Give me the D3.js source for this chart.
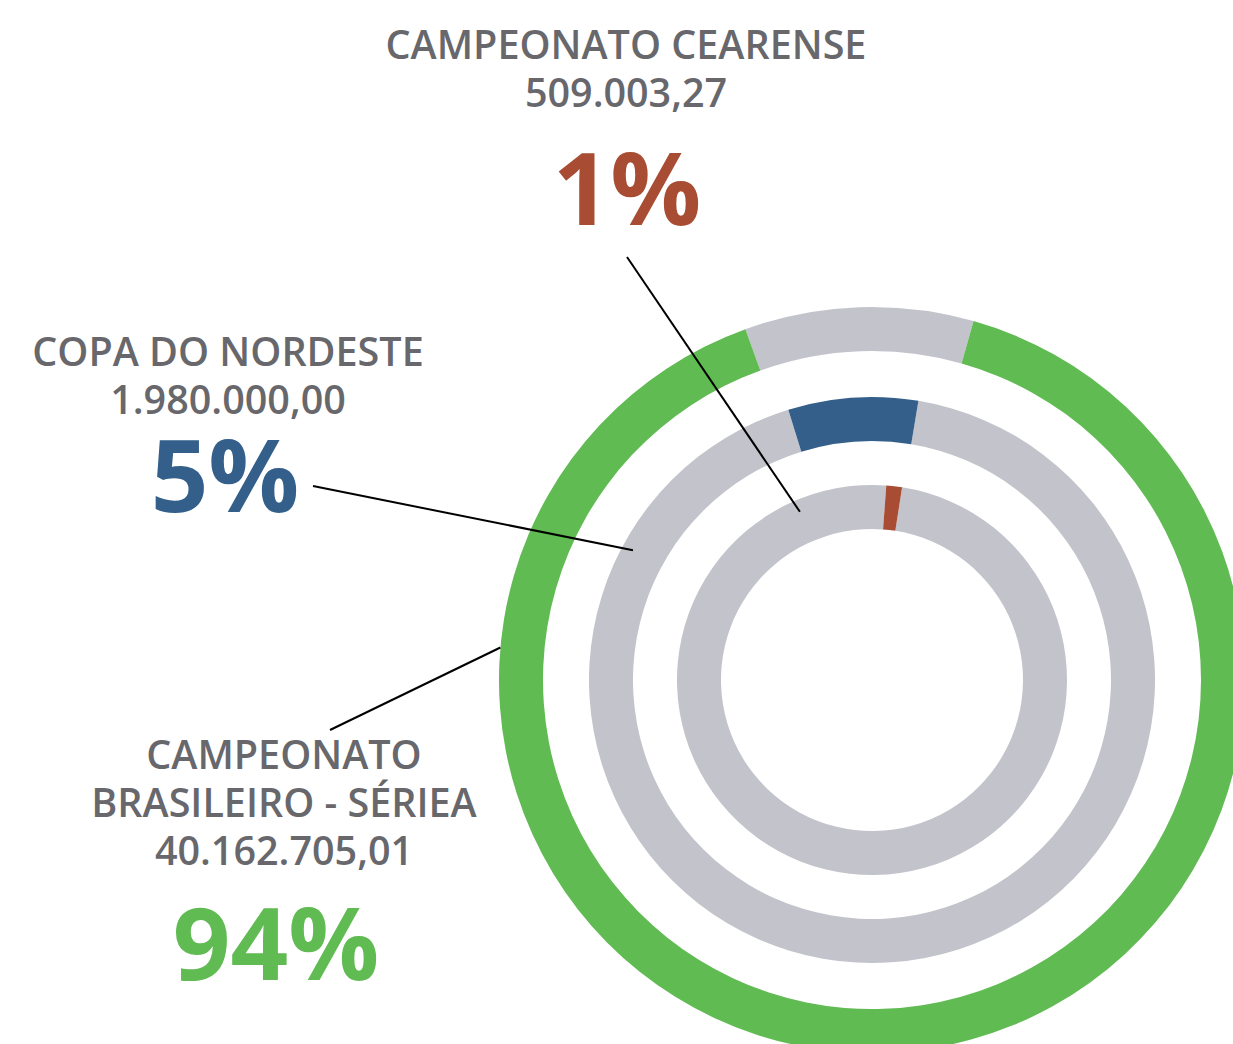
<!DOCTYPE html>
<html>
<head>
<meta charset="utf-8">
<script src="https://cdnjs.cloudflare.com/ajax/libs/d3/7.8.5/d3.min.js"></script>
<style>
  body { margin: 0; background: #fff; }
  .lbl { font-family: "Open Sans", sans-serif; font-weight: 600; fill: #67676c; text-anchor: middle; }
  .pct { font-family: "Open Sans", sans-serif; font-weight: 700; text-anchor: middle; }
</style>
</head>
<body>
<svg id="chart" width="1233" height="1044"></svg>
<script>
// competitions, outer ring first
var names = [["CAMPEONATO", "BRASILEIRO - SÉRIEA"], ["COPA DO NORDESTE"], ["CAMPEONATO CEARENSE"]];
var amounts = ["40.162.705,01", "1.980.000,00", "509.003,27"];
var pctLabels = ["94%", "5%", "1%"];
var colors = ["#60bb52", "#335f8a", "#a84d33"];
// arc of each colored segment (share of the ring, start in degrees from top)
var segShare = [0.901, 0.074, 0.013];
var segStart = [15.8, -17.2, 4.2];

var svg = d3.select("#chart");
var cx = 872, cy = 680;

// ring radii: outer ring index 0
var rOuter = d3.scaleOrdinal().domain([0, 1, 2]).range([373, 283, 195]);
var ringW = 44;

var arc = d3.arc();
var deg = d3.scaleLinear().domain([0, 360]).range([0, 2 * Math.PI]);

var g = svg.append("g").attr("transform", "translate(" + cx + "," + cy + ")");

segShare.forEach(function(s, i) {
    var a0 = deg(segStart[i]);
    var a1 = a0 + deg(s * 360);
    // gray background (rest of ring)
    g.append("path")
        .attr("d", arc({innerRadius: rOuter(i) - ringW, outerRadius: rOuter(i), startAngle: a1, endAngle: a0 + 2 * Math.PI}))
        .attr("fill", "#c3c3cc");
    g.append("path")
        .attr("d", arc({innerRadius: rOuter(i) - ringW, outerRadius: rOuter(i), startAngle: a0, endAngle: a1}))
        .attr("fill", colors[i]);
});

// leader lines: text end -> point on ring (angle deg, radius)
var leaders = [
    {from: [330, 730], ang: -85, r: 373},
    {from: [313, 486], ang: -61.5, r: 272},
    {from: [627, 257], ang: -23.2, r: 183}
];
leaders.forEach(function(l) {
    var a = deg(l.ang);
    svg.append("line")
        .attr("x1", l.from[0]).attr("y1", l.from[1])
        .attr("x2", cx + l.r * Math.sin(a)).attr("y2", cy - l.r * Math.cos(a))
        .attr("stroke", "#000").attr("stroke-width", 2);
});

// label blocks
var blocks = [
    {x: 284, y: 769, pctX: 276, pctY: 980},
    {x: 228, y: 366, pctX: 225, pctY: 512},
    {x: 626, y: 59, pctX: 627, pctY: 225}
];
blocks.forEach(function(b, i) {
    var lines = names[i].concat([amounts[i]]);
    lines.forEach(function(t, j) {
        svg.append("text").attr("class", "lbl")
            .attr("x", b.x).attr("y", b.y + j * 48)
            .style("font-size", "39.5px")
            .text(t);
    });
    svg.append("text").attr("class", "pct")
        .attr("x", b.pctX).attr("y", b.pctY)
        .style("font-size", "101px")
        .attr("fill", colors[i])
        .text(pctLabels[i]);
});
</script>
</body>
</html>
